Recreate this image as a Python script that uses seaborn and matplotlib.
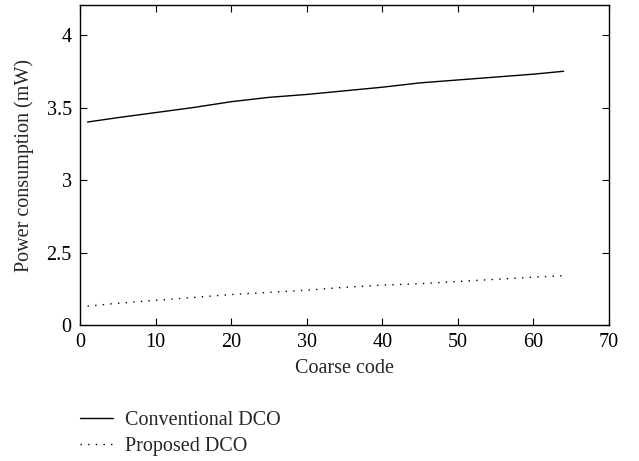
import numpy as np
import pandas as pd
import matplotlib
matplotlib.use("Agg")
import matplotlib.pyplot as plt
import seaborn as sns

code = [1, 5, 10, 15, 20, 25, 30, 35, 40, 45, 50, 55, 60, 64]
conventional = [3.40, 3.43, 3.465, 3.50, 3.54, 3.57, 3.59, 3.615, 3.64, 3.67, 3.69, 3.71, 3.73, 3.75]
proposed = [2.13, 2.15, 2.17, 2.19, 2.21, 2.225, 2.24, 2.26, 2.275, 2.285, 2.30, 2.315, 2.33, 2.34]
series_names = ["Conventional DCO", "Proposed DCO"]
xticks = [0, 10, 20, 30, 40, 50, 60, 70]
yticks = [2.0, 2.5, 3.0, 3.5, 4.0]
ytick_labels = ["0", "2.5", "3", "3.5", "4"]

df = pd.DataFrame({
    "code": code + code,
    "power": conventional + proposed,
    "series": [series_names[0]] * len(code) + [series_names[1]] * len(code),
})

sns.set_theme(style="ticks")
plt.rcParams["font.family"] = ["Liberation Serif", "DejaVu Serif"]
fs = 14.5

fig = plt.figure(figsize=(6.39, 4.61), dpi=100)
ax = fig.add_axes([80 / 639, 1 - 325 / 461, (609 - 80) / 639, (325 - 5) / 461])

sns.lineplot(data=df, x="code", y="power", hue="series", style="series",
             palette=["black", "black"], dashes=[(None, None), (1, 4.5)],
             linewidth=1.0, ax=ax, legend=True)

ax.set_xlim(0, 70)
ax.set_ylim(2.0, 4.207)
ax.set_xticks(xticks)
ax.set_xticklabels([str(t) for t in xticks], fontsize=fs)
ax.set_yticks(yticks)
ax.set_yticklabels(ytick_labels, fontsize=fs)
ax.tick_params(direction="in", top=True, right=True, length=5, width=0.8, colors="black", pad=6)
for s in ax.spines.values():
    s.set_linewidth(1.0)
    s.set_color("black")
ax.set_xlabel("Coarse code", fontsize=fs, labelpad=5)
ax.set_ylabel("Power consumption (mW)", fontsize=fs, labelpad=9)

handles, labels = ax.get_legend_handles_labels()
ax.legend(handles=handles, labels=labels, loc="upper left",
          bbox_to_anchor=(80 / 639, 1 - 411 / 461), bbox_transform=fig.transFigure,
          frameon=False, fontsize=fs, handlelength=1.65, handletextpad=0.6,
          labelspacing=0.35, borderpad=0, borderaxespad=0)

fig.savefig("out.png", dpi=100)
